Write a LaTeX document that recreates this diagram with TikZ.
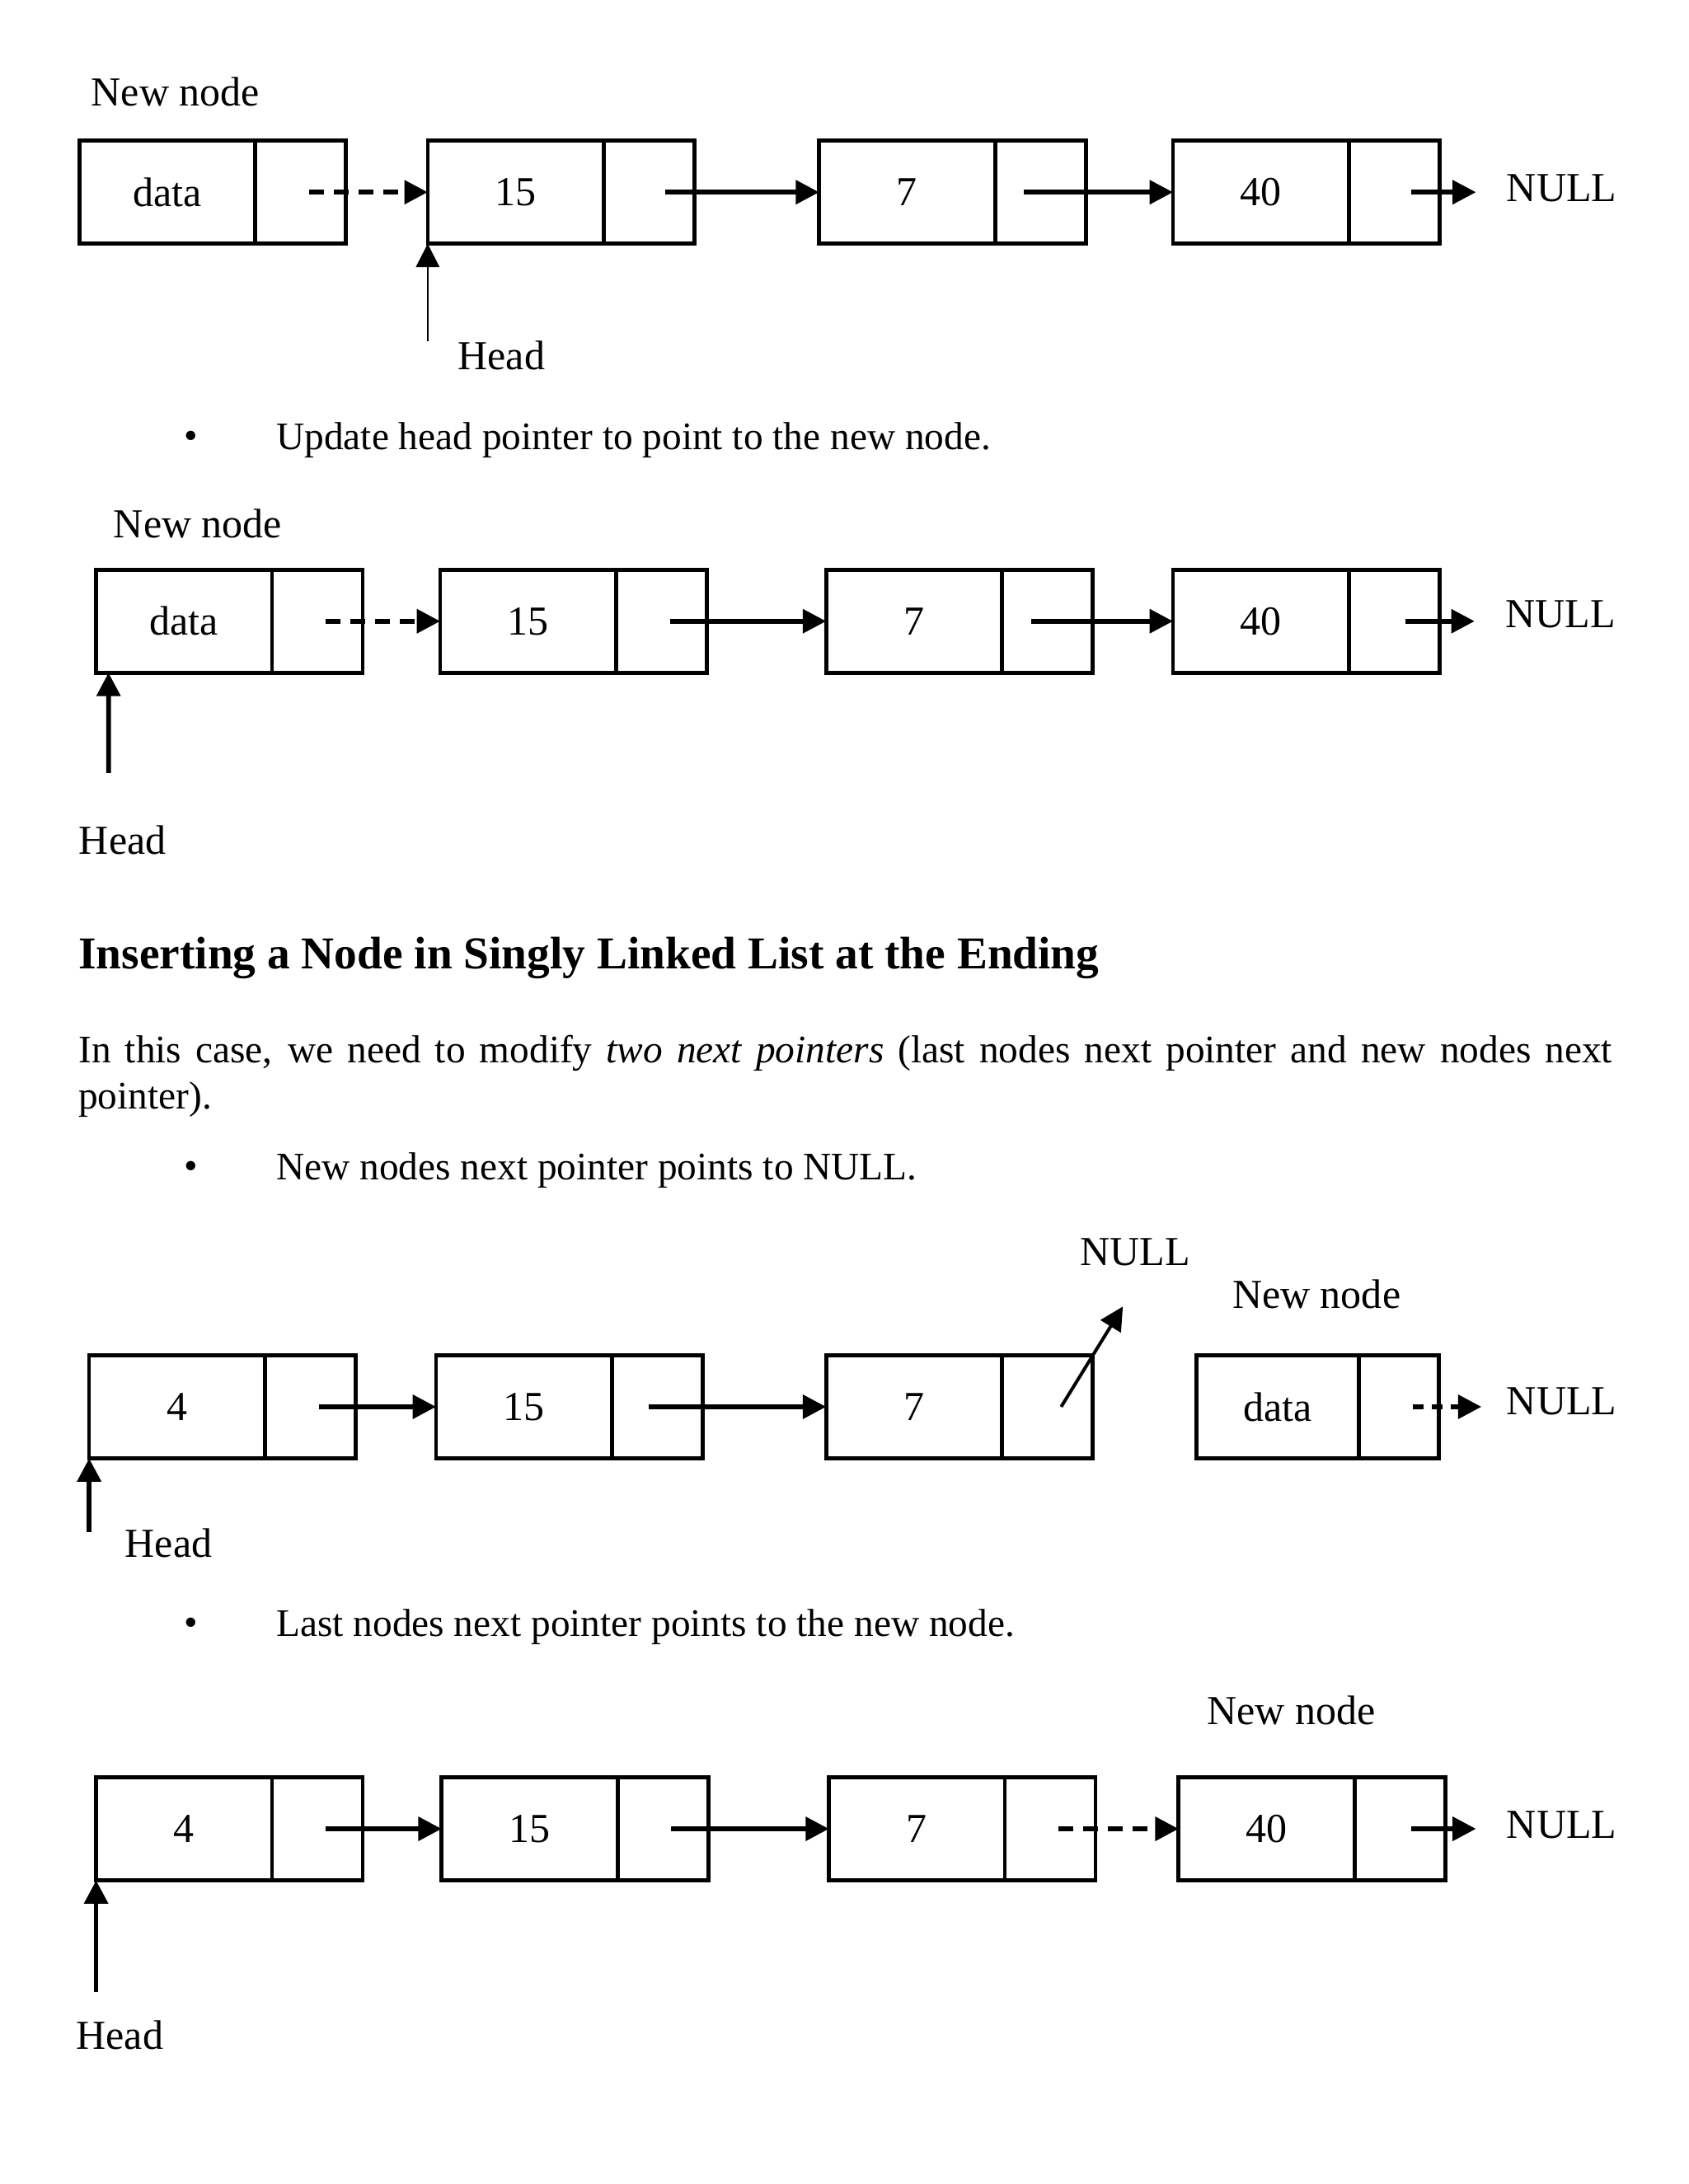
\documentclass[tikz,border=0pt]{standalone}
\usepackage{fontspec}
\setmainfont{Liberation Serif}
\usetikzlibrary{arrows.meta, positioning}

\begin{document}
\begin{tikzpicture}[x=0.5068pt, y=-0.5068pt,
    datacell/.style={draw, line width=1.4pt, minimum width=64pt, minimum height=37.5pt,
      inner sep=0pt, outer sep=0pt, anchor=west, font=\fontsize{15}{18}\selectfont},
    ptrcell/.style={draw, line width=1.4pt, minimum width=33pt, minimum height=37.5pt,
      inner sep=0pt, outer sep=0pt, anchor=west},
    link/.style={-{Triangle[length=8.5pt,width=8.5pt]}, line width=1.7pt},
    dlink/.style={link, dash pattern=on 5.5pt off 3.5pt},
    lbl/.style={font=\fontsize{15}{18}\selectfont, inner sep=0pt},
    body/.style={font=\fontsize{14.2}{16.7}\selectfont, inner sep=0pt, anchor=west}]
  \useasboundingbox[fill=white] (0,0) rectangle (1212,1568);

  % new node in front of the head
  \foreach \i/\x/\t in {1/57/data, 2/307/15, 3/588/7, 4/842/40}
  {
    \node[datacell] (a\i) at (\x,138) {\t};
    \node[ptrcell] (ap\i) at (a\i.east) {};
  }
  \node[lbl] (nn1) at (126,66) {New node};
  \node[lbl] (na) at (1121,135) {NULL};
  \draw[dlink] ([xshift=3pt]ap1.center) -- (a2.west);
  \draw[link] ([xshift=6pt]ap2.center) -- (a3.west);
  \draw[link] ([xshift=-6pt]ap3.center) -- (a4.west);
  \draw[link] ([xshift=6pt]ap4.center) -- ([xshift=-11pt]ap4.center -| na.west);
  \coordinate (ha) at (307,245);
  \draw[link, line width=0.7pt] (ha) -- (a2.south west);
  \node[lbl] (hda) at (360,255) {Head};

  % head moved to the new node
  \foreach \i/\x/\t in {1/69/data, 2/316/15, 3/593/7, 4/842/40}
  {
    \node[datacell] (b\i) at (\x,446) {\t};
    \node[ptrcell] (bp\i) at (b\i.east) {};
  }
  \node[lbl] (nn2) at (142,376) {New node};
  \node[lbl] (nb) at (1120,441) {NULL};
  \draw[dlink] ([xshift=3pt]bp1.center) -- (b2.west);
  \draw[link] ([xshift=3pt]bp2.center) -- (b3.west);
  \draw[link] ([xshift=-6pt]bp3.center) -- (b4.west);
  \draw[link] ([xshift=4pt]bp4.center) -- ([xshift=-11pt]bp4.center -| nb.west);
  \coordinate (hb) at (78,555);
  \draw[link] (hb) -- ([xshift=4.5pt]b1.south west);
  \node[lbl] (hdb) at (88,603) {Head};

  % text
  \foreach \nm/\yb/\txt in {ua/316/Update head pointer to point to the new node.,
    ub/840/New nodes next pointer points to NULL.,
    uc/1168/Last nodes next pointer points to the new node.}
  {
    \node[body, anchor=center] (\nm dot) at (137,\yb) {\textbullet};
    \node[body] (\nm) at (198,\yb) {\txt};
  }
  \node[anchor=west, inner sep=0pt, font=\fontsize{16.6}{20}\selectfont\bfseries] (title)
    at (56,688) {Inserting a Node in Singly Linked List at the Ending};
  \node[anchor=north west, inner sep=0pt, text width=558pt, align=justify,
    font=\fontsize{14.2}{16.7}\selectfont] (para) at (56,743)
    {In this case, we need to modify \textit{two next pointers} (last nodes next pointer
     and new nodes next\linebreak pointer).};

  % new node at the end
  \foreach \i/\x/\t in {1/64/4, 2/313/15, 3/593/7}
  {
    \node[datacell] (c\i) at (\x,1010) {\t};
    \node[ptrcell] (cp\i) at (c\i.east) {};
  }
  \node[datacell, minimum width=59pt] (c4) at (859,1010) {data};
  \node[ptrcell, minimum width=29pt] (cp4) at (c4.east) {};
  \node[lbl] (nn3) at (945,929) {New node};
  \node[lbl] (nc) at (815,899) {NULL};
  \node[lbl] (nd) at (1121,1006) {NULL};
  \draw[link] ([xshift=3pt]cp1.center) -- (c2.west);
  \draw[link] ([xshift=-3pt]cp2.center) -- (c3.west);
  \coordinate (tc) at (806,938);
  \draw[link, line width=1.2pt] ([xshift=5pt]cp3.center) -- (tc);
  \draw[dlink, dash pattern=on 4pt off 3pt] ([xshift=5pt]cp4.center)
    -- ([xshift=-9pt]cp4.center -| nd.west);
  \coordinate (hc) at (64,1100);
  \draw[link] (hc) -- (c1.south west);
  \node[lbl] (hdc) at (121,1108) {Head};

  % last node linked to the new node
  \foreach \i/\x/\t in {1/69/4, 2/317/15, 3/595/7, 4/846/40}
  {
    \node[datacell] (d\i) at (\x,1313) {\t};
    \node[ptrcell] (dp\i) at (d\i.east) {};
  }
  \node[lbl] (nn4) at (927,1228) {New node};
  \node[lbl] (ne) at (1121,1310) {NULL};
  \draw[link] ([xshift=3pt]dp1.center) -- (d2.west);
  \draw[link] ([xshift=3pt]dp2.center) -- (d3.west);
  \draw[dlink] ([xshift=3pt]dp3.center) -- (d4.west);
  \draw[link] ([xshift=4pt]dp4.center) -- ([xshift=-11pt]dp4.center -| ne.west);
  \coordinate (hd) at (69,1430);
  \draw[link] (hd) -- (d1.south west);
  \node[lbl] (hdd) at (86,1461) {Head};
\end{tikzpicture}
\end{document}
